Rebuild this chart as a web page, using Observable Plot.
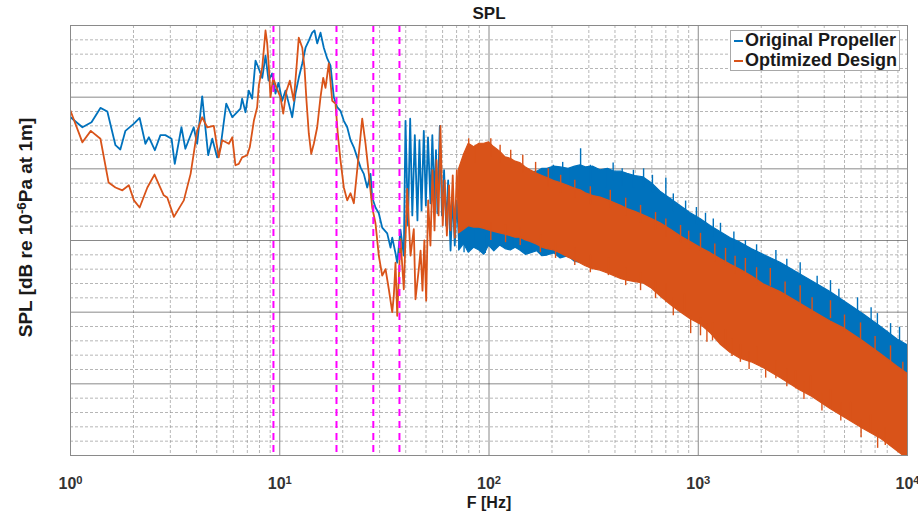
<!DOCTYPE html>
<html><head><meta charset="utf-8">
<script src="https://cdn.jsdelivr.net/npm/d3@7"></script>
<script src="https://cdn.jsdelivr.net/npm/@observablehq/plot@0.6"></script>
<style>
body{margin:0;background:#fff;font-family:"Liberation Sans",Arial,Helvetica,sans-serif}
#wrap{position:relative;width:918px;height:512px}
#legend{position:absolute;left:730px;top:30px;width:170px;height:41px;border:1px solid #a8a8a8;background:#fff;box-sizing:border-box;font-weight:bold;font-size:18px;color:#1a1a1a}
.item{position:absolute;left:14px;white-space:nowrap;line-height:20px}
.sw{position:absolute;left:-11px;top:10px;width:9px;height:2px}
</style></head>
<body><div id="wrap"></div>
<script>
const blue = "#0072BD", orange = "#D95319";

// Low-frequency traces (Hz, dB)
const blueLineF = [1.00,1.14,1.26,1.39,1.50,1.64,1.73,1.83,2.01,2.14,2.28,2.37,2.53,2.69,2.84,3.04,3.15,3.39,3.54,3.88,4.03,4.26,4.55,4.76,5.02,5.21,5.55,5.93,6.26,6.49,6.61,6.86,7.11,7.38,7.66,7.91,8.25,8.55,8.84,9.20,9.54,9.86,10.27,10.65,11.05,11.47,11.89,12.33,12.81,13.28,13.77,14.29,14.66,15.10,15.66,16.24,16.86,17.48,18.13,18.82,19.51,20.24,21.01,21.79,22.60,23.45,24.32,25.22,26.18,27.15,27.66,28.68,29.74,30.88,32.63,33.84,34.48,35.75,36.42,37.76,39.16,39.90,41.0,42.0,43.0,44.2,45.5,46.5,47.6,48.8,49.9,51.1,52.5,53.6,54.9,55.8,56.7,58.2,59.6,61.0,62.4,63.8,65.5,67.1,68.6,70.2,71.8];
const blueLineDb = [67.2,65.8,66.5,68.5,68.0,63.3,62.7,65.3,66.3,67.1,63.5,64.4,62.6,64.7,64.7,64.2,60.7,65.8,62.8,65.8,63.5,70.1,61.9,64.2,61.6,63.0,69.1,67.2,67.9,68.4,69.8,67.9,70.9,69.8,75.1,74.1,72.7,75.8,72.3,73.3,70.5,72.0,69.5,70.9,69.1,67.2,70.5,72.7,74.7,76.9,77.9,79.0,79.3,77.5,79.0,76.9,75.4,74.4,70.0,68.6,68.1,66.7,65.8,64.0,63.0,61.6,60.2,59.3,57.4,59.3,56.0,54.6,53.8,51.8,51.0,49.0,50.4,48.2,46.9,51.5,47.9,66.7,52.1,67.0,53.5,64.7,52.8,64.0,54.2,65.3,54.9,64.4,55.2,64.7,55.6,62.6,53.8,66.0,53.5,59.8,52.1,58.4,48.6,56.3,49.3,55.6,50.0];

const orangeLineF = [1.00,1.14,1.25,1.39,1.52,1.64,1.77,1.90,2.01,2.14,2.33,2.52,2.79,2.90,3.12,3.48,3.75,4.03,4.26,4.50,4.84,5.11,5.31,5.71,5.93,6.14,6.37,6.61,6.99,7.19,7.52,7.80,7.94,8.25,8.55,8.71,8.87,9.03,9.30,9.65,10.08,10.39,10.77,11.17,11.67,12.02,12.33,12.81,13.13,13.42,13.77,14.14,14.55,15.10,15.66,16.13,16.54,17.16,17.81,18.47,18.94,19.51,20.24,21.01,21.79,22.60,23.87,24.78,25.70,26.65,27.66,28.68,29.74,30.88,32.03,33.21,34.48,35.08,35.75,36.42,37.76,39.16,40.65,42.16,43.71,44.54,46.18,47.1,48.1,49.1,50.1,51.2,52.5,53.7,54.9,56.1,57.4,58.6,60.1,61.4,62.9,64.4,65.5,67.1,68.6,70.2,71.8];
const orangeLineDb = [68.1,63.7,65.3,64.2,58.1,57.4,57.0,57.7,55.6,54.6,57.4,59.2,56.3,56.0,53.3,55.6,59.3,65.3,67.2,65.8,66.0,61.6,64.0,63.5,64.4,60.5,60.7,61.6,61.9,63.0,66.7,68.6,71.6,74.2,79.3,77.5,74.1,70.0,72.7,71.3,70.0,67.7,70.9,72.3,69.5,74.1,78.3,76.9,74.1,69.5,64.9,62.1,63.5,65.8,70.0,72.7,71.3,74.7,69.5,69.1,64.9,61.2,57.4,55.6,56.6,55.2,62.1,67.0,63.5,59.3,54.6,52.4,47.9,45.1,46.0,43.2,40.0,42.3,46.9,39.5,50.2,43.2,57.2,47.9,51.6,41.8,46.0,48.6,43.0,50.0,41.6,55.6,49.3,59.8,51.4,61.2,53.5,66.0,52.1,58.4,50.7,57.7,51.4,59.1,50.4,59.8,52.1];

// High-frequency envelopes of the dense spectra (Hz, dB)
const bandF = [72,76,80,85,90,95,100,106,113,120,127,134,141,150,158,170,180,190,205,220,240,258,274,290,315,341,370,400,430,459,500,548,600,660,740,823,920,1025,1150,1277,1430,1592,1800,2051,2472,2981,3500,4285,5000,6161,7500,8960,10000];
const blueHi = [57.0,56.0,56.5,55.8,56.5,56.0,56.3,56.5,57.5,57.5,58.2,58.5,59.0,59.0,59.5,59.6,60.0,60.0,60.3,60.2,60.0,60.3,60.5,60.2,60.3,59.8,60.0,59.6,59.6,59.3,59.0,58.8,58.0,56.8,55.8,54.8,53.8,53.0,52.0,51.2,50.3,49.7,48.8,48.0,46.9,45.5,44.3,42.8,41.5,39.7,37.9,36.2,35.4];
const blueLo = [48.6,49.5,48.3,49.0,48.6,48.0,49.3,48.5,49.3,48.8,48.6,49.0,48.6,48.0,48.2,48.5,47.8,47.9,48.2,47.5,47.8,47.0,46.9,47.3,46.5,46.1,45.8,45.5,45.0,44.7,44.5,44.1,43.6,43.0,42.3,41.6,40.8,40.0,39.5,39.0,38.5,38.0,37.0,36.5,35.8,35.0,34.0,33.0,32.0,31.0,30.0,29.5,29.0];
const orangeHi = [60.0,62.0,63.5,63.0,63.5,63.5,63.7,63.0,62.4,61.6,61.4,61.0,60.8,60.2,59.8,59.3,59.0,58.7,58.3,58.0,57.6,57.2,57.0,56.6,56.2,56.0,55.6,55.2,54.8,54.4,54.0,53.5,53.0,52.4,51.5,50.6,49.8,49.0,48.2,47.4,46.6,45.9,45.0,43.9,42.8,41.4,40.2,38.7,37.7,35.9,34.1,32.4,31.4];
const orangeLo = [51.0,51.5,52.0,51.8,51.8,51.6,51.4,51.2,51.0,50.8,50.6,50.4,50.4,50.0,49.8,49.4,49.0,48.8,48.6,48.2,47.6,47.2,46.8,46.4,46.0,45.8,45.4,45.0,44.6,44.4,44.2,44.0,43.3,42.2,41.0,40.0,39.0,38.3,37.0,35.5,34.3,33.5,33.0,32.2,30.8,29.3,28.2,26.5,25.3,23.7,22.3,20.6,19.5];

// Individual spike tips sticking out of the dense bands (Hz, dB)
const blueTopSpikeF = [203,225,245,274,305,360,392,433,490,548,604,700,760,870,980,1083,1180,1277,1480,1680,1900,2350,2650,3070,3700,4285,4700,5770,6700,7180,8300,9160];
const blueTopSpikeDb = [60.5,60.9,60.0,62.8,60.5,59.8,60.8,60.0,59.8,60.0,59.1,58.7,56.5,55.5,54.6,53.8,53.0,52.4,51.2,50.0,49.4,48.6,47.4,46.9,45.0,44.4,43.2,42.0,40.6,39.8,38.4,37.9];
const blueLowSpikeF = [76,86,96,113,130,158];
const blueLowSpikeDb = [48.3,48.9,48.2,49.3,48.9,48.6];
const orangeTopSpikeF = [80,86,102,113,127,145,167,192,220,257,305,380,450,530,625,700,823,900,1025,1200,1350,1500,1680,1900,2210,2600,3070,3500,4285,5000,5963,7000,8295,9500];
const orangeTopSpikeDb = [64.2,63.3,64.2,63.3,62.6,61.9,60.9,60.0,59.1,58.4,57.5,57.0,55.9,54.9,53.9,53.0,52.1,51.3,51.0,49.5,48.9,47.8,47.5,46.2,46.1,44.2,43.7,42.0,41.6,39.6,38.5,36.6,35.3,33.0];
const orangeLowSpikeF = [102,120,141,176,208,257,305,372,450,530,625,700,760,860,920,1025,1100,1170,1350,1450,1590,1750,1915,2100,2350,2650,2920,3200,3440,3900,4285,4800,5350,6000,6660,7200,7830];
const orangeLowSpikeDb = [50.0,49.7,49.3,48.3,47.5,46.5,45.5,45.1,43.7,43.0,41.9,41.4,39.5,40.0,37.0,36.7,35.8,36.0,35.1,33.8,33.0,32.0,32.6,30.8,30.7,29.6,29.3,27.8,28.6,26.2,26.6,24.8,24.9,22.5,23.1,21.0,21.4];

// Blade-pass harmonics (Hz)
const harmonics = [9.33, 18.67, 28.0, 37.33];

// Axis ticks / grid
const xMajor = [1, 10, 100, 1000, 10000];
const xTickLabels = ["10^{0}", "10^{1}", "10^{2}", "10^{3}", "10^{4}"];
const xMinor = [2,3,4,5,6,7,8,9,20,30,40,50,60,70,80,90,200,300,400,500,600,700,800,900,2000,3000,4000,5000,6000,7000,8000,9000];
const yMajor = [20,30,40,50,60,70,80];
const yMinor = [22,24,26,28,32,34,36,38,42,44,46,48,52,54,56,58,62,64,66,68,72,74,76,78];

const pts = (f, v) => f.map((x, i) => ({f: x, v: v[i]}));
const band = (f, lo, hi) => f.map((x, i) => ({f: x, lo: lo[i], hi: hi[i]}));
const spike = (f, v, len) => f.map((x, i) => ({f: x, tip: v[i], base: v[i] + len}));

const chart = Plot.plot({
  width: 918, height: 512,
  marginLeft: 70, marginRight: 11, marginTop: 25, marginBottom: 57,
  style: "font-family:'Liberation Sans',Arial,Helvetica,sans-serif;background:#fff;overflow:visible",
  x: {type: "log", domain: [1, 10000]},
  y: {domain: [20, 80], axis: null},
  marks: [
    Plot.ruleX(xMinor, {stroke: "#8c8c8c", strokeWidth: 0.8, strokeDasharray: "3,2", strokeOpacity: 0.8}),
    Plot.ruleY(yMinor, {stroke: "#8c8c8c", strokeWidth: 0.8, strokeDasharray: "3,2", strokeOpacity: 0.8}),
    Plot.ruleX(xMajor, {stroke: "#5a5a5a", strokeWidth: 0.9, strokeOpacity: 0.8}),
    Plot.ruleY(yMajor, {stroke: "#5a5a5a", strokeWidth: 0.9, strokeOpacity: 0.8}),
    Plot.areaY(band(bandF, blueLo, blueHi), {x: "f", y1: "lo", y2: "hi", fill: blue, stroke: blue, strokeWidth: 1.2, clip: true}),
    Plot.ruleX(spike(blueTopSpikeF, blueTopSpikeDb, -2.5), {x: "f", y1: "base", y2: "tip", stroke: blue, strokeWidth: 1.4, clip: true}),
    Plot.ruleX(spike(blueLowSpikeF, blueLowSpikeDb, 2.5), {x: "f", y1: "base", y2: "tip", stroke: blue, strokeWidth: 1.4, clip: true}),
    Plot.lineY(pts(blueLineF, blueLineDb), {x: "f", y: "v", stroke: blue, strokeWidth: 1.8, clip: true}),
    Plot.areaY(band(bandF, orangeLo, orangeHi), {x: "f", y1: "lo", y2: "hi", fill: orange, stroke: orange, strokeWidth: 1.2, clip: true}),
    Plot.ruleX(spike(orangeTopSpikeF, orangeTopSpikeDb, -2.5), {x: "f", y1: "base", y2: "tip", stroke: orange, strokeWidth: 1.4, clip: true}),
    Plot.ruleX(spike(orangeLowSpikeF, orangeLowSpikeDb, 2.5), {x: "f", y1: "base", y2: "tip", stroke: orange, strokeWidth: 1.4, clip: true}),
    Plot.lineY(pts(orangeLineF, orangeLineDb), {x: "f", y: "v", stroke: orange, strokeWidth: 1.8, clip: true}),
    Plot.ruleX(harmonics, {stroke: "#ff00ff", strokeWidth: 2, strokeDasharray: "7,5"}),
    Plot.frame({stroke: "#8a8a8a", strokeWidth: 1}),
    Plot.axisX({ticks: xMajor, tickFormat: d => xTickLabels[xMajor.indexOf(d)], tickSize: 0, tickPadding: 22, fontSize: 16, fontWeight: "bold", fill: "#333", label: null}),
    Plot.text(["SPL"], {frameAnchor: "top", dy: -12, fontSize: 17, fontWeight: "bold", fill: "#1a1a1a", lineAnchor: "middle"}),
    Plot.text(["F [Hz]"], {frameAnchor: "bottom", dy: 47, fontSize: 16, fontWeight: "bold", fill: "#1a1a1a", lineAnchor: "middle"}),
    Plot.text(["SPL [dB re 10^{-6}Pa at 1m]"], {frameAnchor: "left", dx: -45, dy: -13, rotate: -90, textAnchor: "middle", fontSize: 19, fontWeight: "bold", fill: "#1a1a1a", lineAnchor: "middle"})
  ]
});

// turn "a^{b}c" into real superscript tspans
d3.select(chart).selectAll("text").each(function() {
  const el = this;
  const targets = el.querySelectorAll("tspan").length ? el.querySelectorAll("tspan") : [el];
  targets.forEach(t => {
    const s = t.textContent;
    const m = s.match(/^(.*?)\^\{(.*?)\}(.*)$/);
    if (!m) return;
    t.textContent = "";
    const ns = "http://www.w3.org/2000/svg";
    const a = document.createElementNS(ns, "tspan"); a.textContent = m[1];
    const b = document.createElementNS(ns, "tspan"); b.textContent = m[2];
    b.setAttribute("dy", "-0.45em"); b.setAttribute("font-size", "70%");
    t.appendChild(a); t.appendChild(b);
    if (m[3]) {
      const c = document.createElementNS(ns, "tspan"); c.textContent = m[3];
      c.setAttribute("dy", "0.315em");
      t.appendChild(c);
    }
  });
});

const wrap = document.getElementById("wrap");
wrap.appendChild(chart);
const legend = document.createElement("div");
legend.id = "legend";
legend.innerHTML =
  '<div class="item" style="top:-1px"><span class="sw" style="background:' + blue + '"></span>Original Propeller</div>' +
  '<div class="item" style="top:19px"><span class="sw" style="background:' + orange + '"></span>Optimized Design</div>';
wrap.appendChild(legend);
</script>
</body></html>
